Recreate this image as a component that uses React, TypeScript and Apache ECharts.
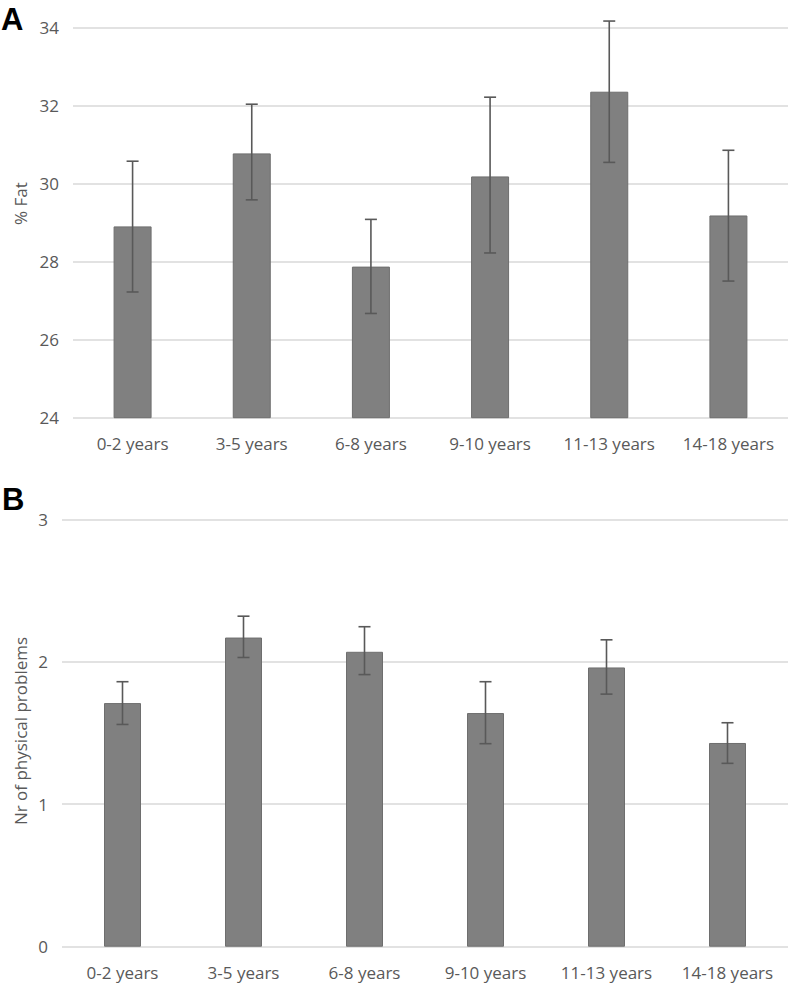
import React, { useEffect, useRef } from "react";
import * as echarts from "echarts";

const categories = ["0-2 years", "3-5 years", "6-8 years", "9-10 years", "11-13 years", "14-18 years"];

const fatMean = [28.9, 30.77, 27.87, 30.18, 32.35, 29.18];
const fatLow = [27.22, 29.58, 26.67, 28.22, 30.54, 27.5];
const fatHigh = [30.57, 32.03, 29.08, 32.21, 34.16, 30.85];

const probMean = [1.71, 2.17, 2.07, 1.64, 1.96, 1.43];
const probLow = [1.56, 2.03, 1.91, 1.425, 1.773, 1.287];
const probHigh = [1.86, 2.32, 2.246, 1.86, 2.154, 1.572];

const FONT = "'Open Sans', 'DejaVu Sans', sans-serif";
const LABEL = "#595959";
const GRID = "#d9d9d9";

function errRender(params: any, api: any) {
  const x = api.value(0);
  const lo = api.coord([x, api.value(1)]);
  const hi = api.coord([x, api.value(2)]);
  const cap = 6;
  const style = { stroke: "#595959", lineWidth: 1.6 };
  return {
    type: "group",
    children: [
      { type: "line", shape: { x1: lo[0], y1: lo[1], x2: hi[0], y2: hi[1] }, style },
      { type: "line", shape: { x1: lo[0] - cap, y1: lo[1], x2: lo[0] + cap, y2: lo[1] }, style },
      { type: "line", shape: { x1: hi[0] - cap, y1: hi[1], x2: hi[0] + cap, y2: hi[1] }, style },
    ],
  };
}

export default function App() {
  const ref = useRef<HTMLDivElement>(null);
  useEffect(() => {
    if (!ref.current) return;
    const chart = echarts.init(ref.current, undefined, { renderer: "svg" });
    const xAxisBase = (gridIndex: number) => ({
      type: "category",
      gridIndex,
      data: categories,
      axisLine: { show: false },
      axisTick: { show: false },
      axisLabel: { color: LABEL, fontFamily: FONT, fontSize: 17, margin: 17 },
    });
    const yAxisBase = (gridIndex: number, min: number, max: number, interval: number) => ({
      type: "value",
      gridIndex,
      min,
      max,
      interval,
      axisLine: { show: false },
      axisTick: { show: false },
      axisLabel: { color: LABEL, fontFamily: FONT, fontSize: 17, margin: 14 },
      splitLine: { show: true, lineStyle: { color: GRID, width: 1.5 } },
    });
    const barStyle = { color: "#808080", borderColor: "#6e6e6e", borderWidth: 1 };
    chart.setOption({
      animation: false,
      grid: [
        { left: 73, right: 4, top: 27.3, height: 390.4 },
        { left: 62, right: 4, top: 519.3, height: 427.4 },
      ],
      xAxis: [xAxisBase(0), xAxisBase(1)],
      yAxis: [yAxisBase(0, 24, 34, 2), yAxisBase(1, 0, 3, 1)],
      series: [
        { type: "bar", xAxisIndex: 0, yAxisIndex: 0, data: fatMean, barWidth: 38, itemStyle: barStyle },
        {
          type: "custom",
          xAxisIndex: 0,
          yAxisIndex: 0,
          data: categories.map((_, i) => [i, fatLow[i], fatHigh[i]]),
          renderItem: errRender,
          z: 5,
        },
        { type: "bar", xAxisIndex: 1, yAxisIndex: 1, data: probMean, barWidth: 37, itemStyle: barStyle },
        {
          type: "custom",
          xAxisIndex: 1,
          yAxisIndex: 1,
          data: categories.map((_, i) => [i, probLow[i], probHigh[i]]),
          renderItem: errRender,
          z: 5,
        },
      ],
      graphic: [
        {
          type: "text",
          left: 1,
          top: 4,
          style: { text: "A", font: "bold 31px 'Liberation Sans', Arial, sans-serif", fill: "#000" },
        },
        {
          type: "text",
          left: 2,
          top: 484,
          style: { text: "B", font: "bold 31px 'Liberation Sans', Arial, sans-serif", fill: "#000" },
        },
        {
          type: "text",
          x: 20,
          y: 203.5,
          rotation: Math.PI / 2,
          style: {
            text: "% Fat",
            font: "17px 'Open Sans', 'DejaVu Sans', sans-serif",
            fill: LABEL,
            align: "center",
            verticalAlign: "middle",
          },
        },
        {
          type: "text",
          x: 20,
          y: 731,
          rotation: Math.PI / 2,
          style: {
            text: "Nr of physical problems",
            font: "17px 'Open Sans', 'DejaVu Sans', sans-serif",
            fill: LABEL,
            align: "center",
            verticalAlign: "middle",
          },
        },
      ],
    });
    return () => chart.dispose();
  }, []);
  return (
    <div
      ref={ref}
      style={{ position: "fixed", left: 0, top: 0, width: 792, height: 986, background: "#fff" }}
    />
  );
}
